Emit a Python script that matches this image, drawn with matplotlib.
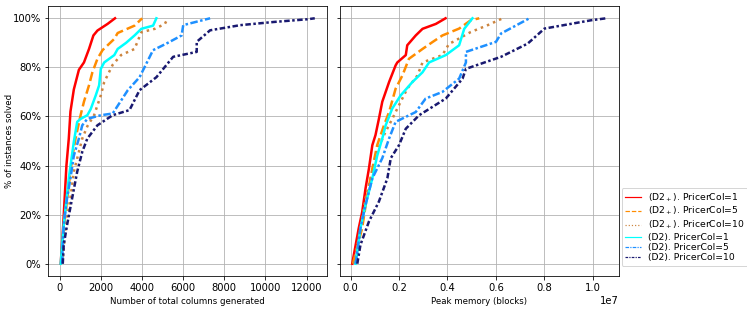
import matplotlib
matplotlib.use("Agg")
import matplotlib.pyplot as plt
from matplotlib.lines import Line2D
from matplotlib.ticker import PercentFormatter

# ---- data: left panel (Number of total columns generated) ----
red_cols_x = [50, 164, 328, 443, 524, 688, 934, 1180, 1426, 1639, 1836, 2327, 2690]
red_cols_y = [0, 14.5, 40, 51, 62, 71, 79, 82, 87.5, 93, 95, 97.7, 100]
orange_cols_x = [100, 200, 443, 606, 770, 1016, 1180, 1426, 1590, 1836, 2082, 2655, 2819, 3639, 4010]
orange_cols_y = [0, 14.5, 32, 43, 51, 60.5, 66, 72.7, 78, 83.5, 87, 91.6, 94, 97, 100]
peru_cols_x = [130, 279, 524, 688, 934, 1098, 1344, 1672, 2000, 2164, 2573, 2983, 3639, 3967, 4622, 5114, 5250]
peru_cols_y = [0, 14.5, 26.7, 37.5, 45.6, 51, 56, 60.5, 68.6, 74, 81, 85, 87.5, 94.3, 95.7, 97.7, 100]
cyan_cols_x = [50, 197, 443, 688, 852, 1016, 1344, 1508, 1754, 1918, 2000, 2164, 2655, 2819, 3229, 3639, 3967, 4540, 4700]
cyan_cols_y = [0, 15.8, 34.8, 49.7, 57.8, 59, 60.5, 63, 68.6, 72.7, 79.4, 82, 85, 87.5, 90, 93, 95.7, 97, 100]
dodger_cols_x = [120, 197, 360, 524, 688, 934, 1098, 1344, 2000, 2577, 3311, 3884, 4537, 5190, 5926, 6005, 7312]
dodger_cols_y = [0, 15.8, 26.7, 34.8, 44, 51, 56.4, 59, 60.5, 61.2, 70.7, 76, 87, 89.7, 93, 97.2, 100]
navy_cols_x = [150, 197, 360, 606, 852, 1098, 1344, 1836, 2573, 3394, 3884, 4702, 5516, 6661, 6661, 7312, 8782, 10415, 12049, 12400]
navy_cols_y = [0, 7.7, 15.8, 26.7, 37.5, 45.6, 51, 56.4, 60.5, 62.6, 70.7, 76, 84.3, 86.3, 90.4, 95.1, 97.2, 98.5, 99.6, 100]

# ---- data: right panel (Peak memory, blocks) ----
red_mem_x = [0.007e7, 0.034e7, 0.048e7, 0.062e7, 0.076e7, 0.090e7, 0.103e7, 0.117e7, 0.131e7, 0.159e7, 0.186e7, 0.193e7, 0.228e7, 0.234e7, 0.269e7, 0.297e7, 0.352e7, 0.392e7]
red_mem_y = [0, 14.5, 21, 30.7, 38.8, 48.3, 52.4, 59, 66, 74, 80.8, 82, 85, 89, 93, 95.7, 97.7, 100]
orange_mem_x = [0.010e7, 0.048e7, 0.069e7, 0.090e7, 0.110e7, 0.138e7, 0.159e7, 0.186e7, 0.214e7, 0.241e7, 0.297e7, 0.338e7, 0.379e7, 0.448e7, 0.496e7, 0.531e7]
orange_mem_y = [0, 14.5, 28, 38.8, 48.3, 56.4, 61.8, 71.3, 76.7, 83.5, 87.5, 90.3, 93, 95.8, 99.2, 100]
peru_mem_x = [0.014e7, 0.041e7, 0.062e7, 0.090e7, 0.110e7, 0.138e7, 0.172e7, 0.207e7, 0.234e7, 0.276e7, 0.297e7, 0.379e7, 0.407e7, 0.421e7, 0.496e7, 0.566e7, 0.628e7]
peru_mem_y = [0, 14.5, 26.7, 37.5, 45.6, 52.4, 59, 66, 71.3, 76.7, 82, 85, 89.7, 90.3, 94.4, 97.2, 100]
cyan_mem_x = [0.021e7, 0.041e7, 0.062e7, 0.090e7, 0.110e7, 0.131e7, 0.145e7, 0.172e7, 0.207e7, 0.255e7, 0.297e7, 0.324e7, 0.393e7, 0.448e7, 0.469e7, 0.503e7]
cyan_mem_y = [0, 14.5, 24, 34.8, 44, 51, 56.4, 63.2, 68.6, 74, 78, 82, 85, 89, 95.7, 100]
dodger_mem_x = [0.021e7, 0.041e7, 0.062e7, 0.090e7, 0.131e7, 0.159e7, 0.186e7, 0.269e7, 0.310e7, 0.379e7, 0.448e7, 0.476e7, 0.476e7, 0.600e7, 0.621e7, 0.738e7]
dodger_mem_y = [0, 14.5, 24, 34.8, 43, 51, 57.8, 61.8, 67.3, 70, 75.4, 82, 86.3, 90.4, 93.8, 100]
navy_mem_x = [0.028e7, 0.041e7, 0.076e7, 0.117e7, 0.152e7, 0.166e7, 0.200e7, 0.228e7, 0.283e7, 0.393e7, 0.462e7, 0.476e7, 0.621e7, 0.731e7, 0.800e7, 0.993e7, 1.055e7]
navy_mem_y = [0, 7.7, 17.2, 25.3, 34.8, 43, 48.3, 55, 60.5, 67.3, 75.4, 79.4, 84.3, 89.7, 95.8, 99.2, 100]

labels = [r"(D2$_+$). PricerCol=1", r"(D2$_+$). PricerCol=5", r"(D2$_+$). PricerCol=10",
          "(D2). PricerCol=1", "(D2). PricerCol=5", "(D2). PricerCol=10"]
colors = ["red", "darkorange", "peru", "cyan", "dodgerblue", "midnightblue"]
styles = ["-", "--", ":", "-", (0, (3, 1, 1, 1)), (0, (2.2, 1, 1, 1))]

left_series = [(red_cols_x, red_cols_y), (orange_cols_x, orange_cols_y), (peru_cols_x, peru_cols_y),
               (cyan_cols_x, cyan_cols_y), (dodger_cols_x, dodger_cols_y), (navy_cols_x, navy_cols_y)]
right_series = [(red_mem_x, red_mem_y), (orange_mem_x, orange_mem_y), (peru_mem_x, peru_mem_y),
                (cyan_mem_x, cyan_mem_y), (dodger_mem_x, dodger_mem_y), (navy_mem_x, navy_mem_y)]

fig, (ax1, ax2) = plt.subplots(1, 2, sharey=True, figsize=(747 / 72, 309 / 72), dpi=72)
fig.subplots_adjust(left=48 / 747, right=619 / 747, top=1 - 6 / 309, bottom=1 - 276 / 309, wspace=0.043)

for ax, series in ((ax1, left_series), (ax2, right_series)):
    for (x, y), c, ls in zip(series, colors, styles):
        ax.plot(x, y, color=c, linestyle=ls, linewidth=2.5)
    ax.grid(True)
    ax.yaxis.set_major_formatter(PercentFormatter(100, decimals=0))

ax1.set_xticks([0, 2000, 4000, 6000, 8000, 10000, 12000])
ax2.set_xticks([0, 0.2e7, 0.4e7, 0.6e7, 0.8e7, 1.0e7])
ax1.set_yticks([0, 20, 40, 60, 80, 100])
ax1.set_xlabel("Number of total columns generated", fontsize=8.6)
ax2.set_xlabel("Peak memory (blocks)", fontsize=8.6)
ax1.set_ylabel("% of instances solved", fontsize=8.6)
ax1.yaxis.set_label_coords(-0.122, 0.5)

handles = [Line2D([], [], color=c, linestyle=ls, linewidth=1.2) for c, ls in zip(colors, styles)]
fig.legend(handles, labels, loc="lower left", bbox_to_anchor=(621.5 / 747, 43.3 / 309),
           borderaxespad=0, fontsize=9.2, labelspacing=0.15, handlelength=1.8,
           handletextpad=0.75, borderpad=0.35)

fig.savefig("out.png", dpi=72)
